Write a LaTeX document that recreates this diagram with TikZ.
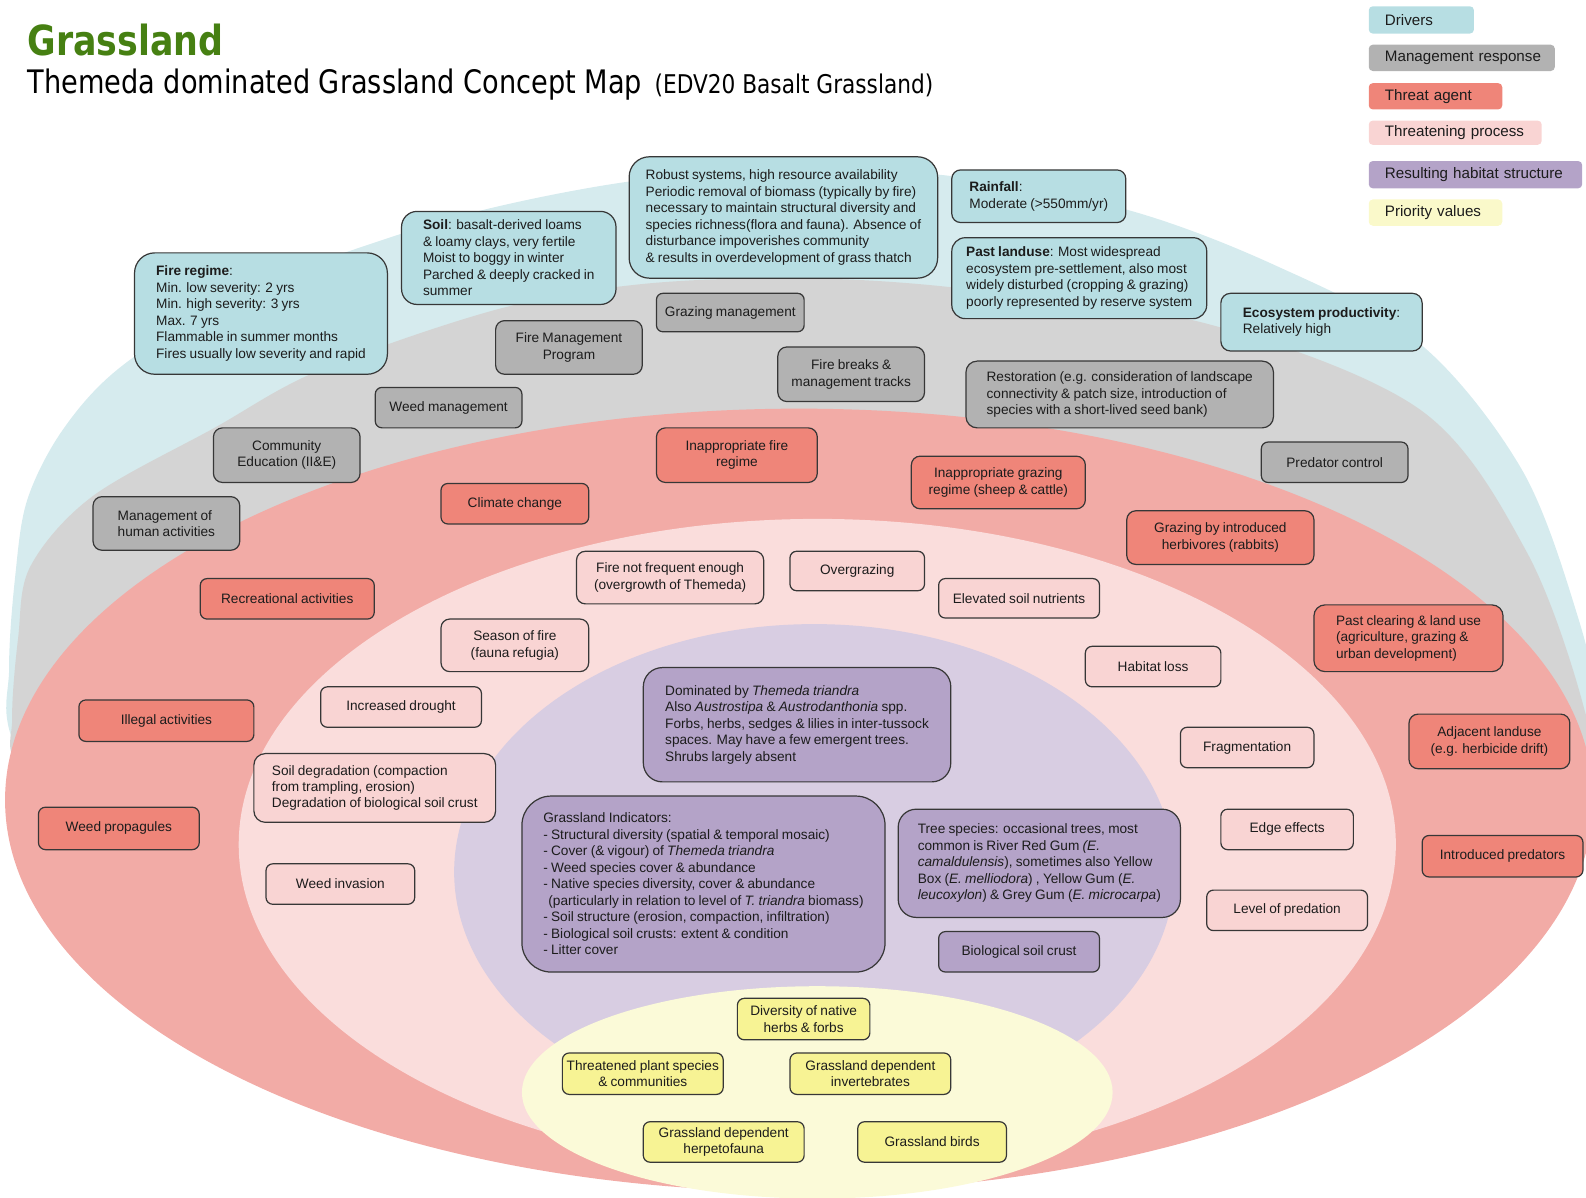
\documentclass[tikz,border=0pt]{standalone}
\usepackage{fontspec}
\setmainfont{Liberation Sans}[WordSpace=0.85]
\newfontfamily\titlefont{DejaVu Sans}[FakeStretch=0.84]

% band colours
\definecolor{bandblue}{RGB}{214,235,238}
\definecolor{bandgray}{RGB}{212,212,212}
\definecolor{bandred}{RGB}{242,171,166}
\definecolor{bandpink}{RGB}{250,221,220}
\definecolor{bandpurple}{RGB}{216,205,226}
\definecolor{bandyellow}{RGB}{251,250,216}
% box colours
\definecolor{drvfill}{RGB}{183,222,227}
\definecolor{mgtfill}{RGB}{178,178,178}
\definecolor{thrfill}{RGB}{239,133,121}
\definecolor{prcfill}{RGB}{249,212,211}
\definecolor{habfill}{RGB}{180,163,200}
\definecolor{prifill}{RGB}{247,243,148}
\definecolor{legyellow}{RGB}{250,249,202}
\definecolor{boxline}{RGB}{55,55,55}
\definecolor{txt}{RGB}{28,28,28}
\definecolor{titlegreen}{RGB}{70,128,18}

\tikzset{
  box/.style={draw=boxline, line width=1.2pt, text=txt, inner sep=2pt, align=center,
    font=\fontsize{13.5}{16.3}\selectfont},
  drv/.style={box, fill=drvfill, align=left},
  mgt/.style={box, fill=mgtfill},
  thr/.style={box, fill=thrfill},
  prc/.style={box, fill=prcfill},
  hab/.style={box, fill=habfill, align=left},
  pri/.style={box, fill=prifill},
  leg/.style={text=txt, align=left, inner ysep=0pt, inner xsep=16pt, anchor=north west,
    rounded corners=4pt, font=\fontsize{15}{18}\selectfont},
}

% rounded box from its corners: name, style, x1, y1, x2, y2, text
\newcommand\cmbox[7]{%
  \pgfmathsetmacro\cmw{#5-#3}%
  \pgfmathsetmacro\cmh{#6-#4}%
  \pgfmathsetmacro\cmr{min(\cmw,\cmh)/6}%
  \pgfmathsetmacro\cmx{(#3+#5)/2}%
  \pgfmathsetmacro\cmy{(#4+#6)/2}%
  \node[#2, minimum width=\cmw pt, minimum height=\cmh pt, rounded corners=\cmr pt] (#1) at (\cmx,\cmy) {#7};%
}
% legend swatch: name, colour, x1, y1, x2, y2, text
\newcommand\legitem[7]{%
  \pgfmathsetmacro\cmw{#5-#3-32}%
  \pgfmathsetmacro\cmh{#6-#4}%
  \node[leg, fill=#2, text width=\cmw pt, minimum height=\cmh pt] (#1) at (#3,#4) {\mbox{#7}};%
}

\begin{document}
\begin{tikzpicture}[x=1pt, y=-1pt]
\useasboundingbox (0,0) rectangle (1568,1184);
\clip (0,0) rectangle (1568,1184);

% ---- concentric bands (lower parts tucked under the red band) ----
\fill[bandblue] plot[smooth cycle, tension=0.55] coordinates {
  (16,740) (9,660) (15,570) (27,494) (62,425) (119,363) (230,292) (349,247)
  (480,207) (633,178) (790,168) (940,174) (1113,207) (1260,262) (1404,340)
  (1505,465) (1560,610) (1578,700) (1560,760) (1440,960) (790,1050) (120,900)};
\fill[bandgray] plot[smooth cycle, tension=0.55] coordinates {
  (20,765) (12,710) (18,630) (30,560) (91,491) (212,423) (316,366) (491,306)
  (633,281) (790,275) (950,285) (1193,320) (1404,405) (1509,545) (1566,700)
  (1568,770) (1440,960) (790,1050) (120,900)};
\fill[bandred] (790,791) ellipse [x radius=785pt, y radius=387pt];
\fill[bandpink] (808,835) ellipse [x radius=572pt, y radius=322pt];
\fill[bandpurple] (805,862) ellipse [x radius=356pt, y radius=245pt];
\fill[bandyellow] (808,1080) ellipse [x radius=292pt, y radius=105pt];

% ---- title ----
\node[anchor=base west, inner sep=0pt, text=titlegreen,
  font=\titlefont\bfseries\fontsize{41}{45}\selectfont] (title) at (27,55) {Grassland};
\node[anchor=base west, inner sep=0pt, text=black,
  font=\titlefont\fontsize{32}{36}\selectfont] (subtitle) at (27,92) {Themeda dominated Grassland Concept Map};
\node[anchor=base west, inner sep=0pt, text=black,
  font=\titlefont\fontsize{25.5}{28}\selectfont] (edv) at (647,92) {(EDV20 Basalt Grassland)};

% ---- legend ----
\legitem{lgA}{drvfill}{1353}{6}{1457}{33}{Drivers}
\legitem{lgB}{mgtfill}{1353}{44}{1537}{70}{Management response}
\legitem{lgC}{thrfill}{1353}{82}{1485}{108}{Threat agent}
\legitem{lgD}{prcfill}{1353}{119}{1524}{143}{Threatening process}
\legitem{lgE}{habfill}{1353}{159}{1564}{186}{Resulting habitat structure}
\legitem{lgF}{legyellow}{1353}{197}{1485}{223}{Priority values}

% ---- drivers ----
\cmbox{fire}{drv}{133}{250}{383}{370}{\textbf{Fire regime}:\\Min. low severity: 2 yrs\\Min. high severity: 3 yrs\\Max. 7 yrs\\Flammable in summer months\\Fires usually low severity and rapid}
\cmbox{soil}{drv}{397}{209}{609}{301}{\textbf{Soil}: basalt-derived loams\\\& loamy clays, very fertile\\Moist to boggy in winter\\Parched \& deeply cracked in\\summer}
\cmbox{robust}{drv}{622}{155}{927}{275}{Robust systems, high resource availability\\Periodic removal of biomass (typically by fire)\\necessary to maintain structural diversity  and\\species richness(flora and fauna). Absence of\\disturbance impoverishes community\\\& results in overdevelopment of grass thatch}
\cmbox{rain}{drv}{941}{168}{1113}{220}{\textbf{Rainfall}:\\Moderate (>550mm/yr)}
\cmbox{past}{drv}{941}{235}{1193}{315}{\textbf{Past landuse}: Most widespread\\ecosystem pre-settlement, also most\\widely disturbed (cropping \& grazing)\\poorly represented by reserve system}
\cmbox{prod}{drv}{1207}{290}{1406}{347}{\textbf{Ecosystem productivity}:\\Relatively high}

% ---- management responses ----
\cmbox{fmp}{mgt}{490}{317}{635}{370}{Fire Management\\Program}
\cmbox{grzm}{mgt}{649}{290}{795}{328}{Grazing management}
\cmbox{breaks}{mgt}{769}{343}{914}{397}{Fire breaks \&\\management tracks}
\cmbox{resto}{mgt, align=left}{955}{357}{1259}{423}{Restoration (e.g. consideration of landscape\\connectivity  \& patch size, introduction of\\species with a short-lived seed bank)}
\cmbox{weedm}{mgt}{371}{383}{516}{423}{Weed management}
\cmbox{edu}{mgt}{211}{423}{356}{477}{Community\\Education (II\&E)}
\cmbox{human}{mgt, align=left}{92}{491}{237}{544}{Management of\\human activities}
\cmbox{predc}{mgt}{1247}{437}{1392}{477}{Predator control}

% ---- threat agents ----
\cmbox{infire}{thr}{649}{423}{808}{477}{Inappropriate fire\\regime}
\cmbox{ingraz}{thr}{901}{451}{1073}{503}{Inappropriate grazing\\regime (sheep \& cattle)}
\cmbox{climate}{thr}{436}{478}{582}{518}{Climate change}
\cmbox{rabbits}{thr}{1114}{505}{1299}{558}{Grazing by introduced\\herbivores (rabbits)}
\cmbox{recr}{thr}{198}{572}{370}{612}{Recreational activities}
\cmbox{clear}{thr, align=left}{1299}{598}{1486}{664}{Past clearing  \& land use\\(agriculture, grazing \&\\urban development)}
\cmbox{adj}{thr}{1393}{706}{1552}{760}{Adjacent landuse\\(e.g. herbicide drift)}
\cmbox{illegal}{thr}{78}{692}{251}{733}{Illegal  activities}
\cmbox{weedp}{thr}{38}{798}{197}{840}{Weed propagules}
\cmbox{intpred}{thr}{1406}{826}{1565}{867}{Introduced predators}

% ---- threatening processes ----
\cmbox{notfreq}{prc}{570}{545}{755}{597}{Fire not frequent enough\\(overgrowth of Themeda)}
\cmbox{overg}{prc}{781}{545}{914}{584}{Overgrazing}
\cmbox{nutr}{prc}{928}{572}{1087}{611}{Elevated soil nutrients}
\cmbox{season}{prc}{436}{612}{582}{664}{Season of fire\\(fauna refugia)}
\cmbox{hloss}{prc}{1073}{639}{1207}{679}{Habitat loss}
\cmbox{drought}{prc}{317}{679}{476}{719}{Increased drought}
\cmbox{frag}{prc}{1167}{719}{1299}{759}{Fragmentation}
\cmbox{soildeg}{prc, align=left}{251}{745}{490}{813}{Soil degradation (compaction\\from trampling, erosion)\\Degradation of biological soil crust}
\cmbox{edge}{prc}{1207}{800}{1338}{840}{Edge effects}
\cmbox{weedi}{prc}{263}{854}{410}{894}{Weed invasion}
\cmbox{levpred}{prc}{1193}{880}{1352}{920}{Level of predation}

% ---- resulting habitat structure ----
\cmbox{dom}{hab}{636}{660}{940}{773}{Dominated by \textit{Themeda triandra}\\Also \textit{Austrostipa} \& \textit{Austrodanthonia} spp.\\Forbs, herbs, sedges \& lilies in inter-tussock\\spaces. May have a few emergent trees.\\Shrubs largely absent}
\cmbox{indic}{hab}{516}{787}{875}{961}{Grassland Indicators:\\- Structural diversity (spatial \& temporal mosaic)\\- Cover (\& vigour) of \textit{Themeda triandra}\\- Weed species cover \& abundance\\- Native species diversity, cover \& abundance\\\hspace*{5pt}(particularly in relation to level of \textit{T. triandra} biomass)\\- Soil structure (erosion, compaction, infiltration)\\- Biological soil crusts: extent \& condition\\- Litter cover}
\cmbox{trees}{hab}{888}{800}{1167}{907}{Tree species: occasional trees, most\\common is River Red Gum \textit{(E.}\\\textit{camaldulensis}), sometimes also Yellow\\Box (\textit{E. melliodora}) , Yellow Gum (\textit{E.}\\\textit{leucoxylon}) \& Grey Gum (\textit{E. microcarpa})}
\cmbox{crust}{hab, align=center}{928}{921}{1087}{961}{Biological soil crust}

% ---- priority values ----
\cmbox{herbs}{pri}{729}{987}{860}{1028}{Diversity of native\\herbs \& forbs}
\cmbox{plants}{pri}{556}{1041}{715}{1082}{Threatened plant species\\\& communities}
\cmbox{invert}{pri}{781}{1041}{940}{1082}{Grassland dependent\\invertebrates}
\cmbox{herp}{pri}{636}{1109}{795}{1149}{Grassland dependent\\herpetofauna}
\cmbox{birds}{pri}{848}{1109}{995}{1149}{Grassland birds}
\end{tikzpicture}
\end{document}
